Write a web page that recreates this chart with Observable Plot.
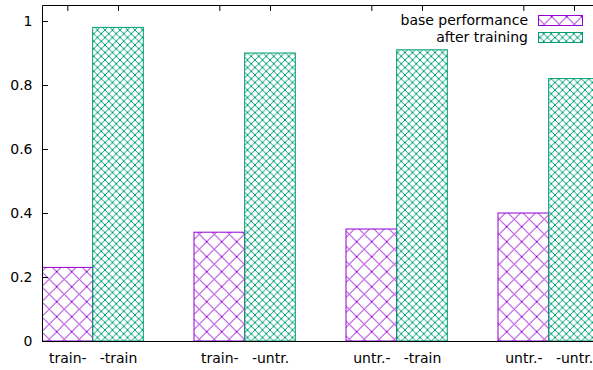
<!DOCTYPE html>
<html><head><meta charset="utf-8">
<script src="https://cdn.jsdelivr.net/npm/d3@7"></script>
<script src="https://cdn.jsdelivr.net/npm/@observablehq/plot@0.6"></script>
<style>html,body{margin:0;padding:0;background:#fff} #chart svg{display:block}</style>
</head><body><div id="chart"></div>
<script>
// ---- data ----
const groupLabels = [["train-", "-train"], ["train-", "-untr."], ["untr.-", "-train"], ["untr.-", "-untr."]];
const seriesNames = ["base performance", "after training"];
const basePerformance = [0.23, 0.34, 0.35, 0.40];
const afterTraining = [0.98, 0.90, 0.91, 0.82];
const yTicks = [0, 0.2, 0.4, 0.6, 0.8, 1];
const seriesColors = ["#9400d3", "#009e73"];

// ---- derived tables ----
const slots = [];
const labelOf = new Map();
groupLabels.forEach((g, i) => {
  slots.push(`b${i}`, `a${i}`, `g${i}`);
  labelOf.set(`b${i}`, g[0]);
  labelOf.set(`a${i}`, g[1]);
});
const labeledSlots = slots.filter(s => labelOf.has(s));
const baseRows = basePerformance.map((v, i) => ({slot: `b${i}`, value: v}));
const afterRows = afterTraining.map((v, i) => ({slot: `a${i}`, value: v}));

const NS = "http://www.w3.org/2000/svg";
function defsMark() {
  const g = document.createElementNS(NS, "g");
  const c0 = seriesColors[0], c1 = seriesColors[1];
  g.innerHTML = `<defs>
    <pattern id="pat0" patternUnits="userSpaceOnUse" width="15" height="15" x="11.7" y="1.7">
      <path d="M-2,-2L17,17M17,-2L-2,17" stroke="${c0}" stroke-width="1.2" fill="none" shape-rendering="crispEdges"/>
    </pattern>
    <pattern id="pat1" patternUnits="userSpaceOnUse" width="7.5" height="7.5">
      <path d="M-1,-1L8.5,8.5M8.5,-1L-1,8.5" stroke="${c1}" stroke-width="1" fill="none" shape-rendering="crispEdges"/>
      <circle cx="0" cy="0" r="1.1" fill="${c1}"/><circle cx="7.5" cy="0" r="1.1" fill="${c1}"/>
      <circle cx="0" cy="7.5" r="1.1" fill="${c1}"/><circle cx="7.5" cy="7.5" r="1.1" fill="${c1}"/>
      <circle cx="3.75" cy="3.75" r="1.1" fill="${c1}"/>
    </pattern>
  </defs>`;
  return g;
}
// frame border lines (left, top, bottom) drawn from the plot dimensions
function borderMark(index, scales, values, dimensions) {
  const g = document.createElementNS(NS, "g");
  const {width, height, marginLeft, marginTop, marginBottom} = dimensions;
  const x0 = marginLeft + 0.5, y0 = marginTop + 0.5, y1 = height - marginBottom + 0.5;
  const p = document.createElementNS(NS, "path");
  p.setAttribute("d", `M${width},${y0}H${x0}V${y1}H${width}`);
  p.setAttribute("fill", "none");
  p.setAttribute("stroke", "black");
  p.setAttribute("stroke-width", 1);
  g.appendChild(p);
  return g;
}
function legendMark(index, scales, values, dimensions) {
  const g = document.createElementNS(NS, "g");
  const w = dimensions.width;
  seriesNames.forEach((name, i) => {
    const cy = 20 + i * 17;
    const t = document.createElementNS(NS, "text");
    t.setAttribute("x", w - 65);
    t.setAttribute("y", cy);
    t.setAttribute("dy", "0.35em");
    t.setAttribute("text-anchor", "end");
    t.setAttribute("fill", "black");
    t.textContent = name;
    g.appendChild(t);
    const r = document.createElementNS(NS, "rect");
    r.setAttribute("x", w - 55 + 0.5);
    r.setAttribute("y", cy - 5 + 0.5);
    r.setAttribute("width", 44);
    r.setAttribute("height", 10);
    r.setAttribute("fill", `url(#pat${i})`);
    r.setAttribute("stroke", seriesColors[i]);
    g.appendChild(r);
  });
  return g;
}

const W = 593, H = 370, ML = 42, MT = 5, MB = 29;
const slotW = (498 - ML) / 9;

const chart = Plot.plot({
  width: W, height: H,
  marginLeft: ML, marginRight: 0, marginTop: MT, marginBottom: MB,
  style: {fontFamily: "DejaVu Sans", fontSize: "14px", color: "black", background: "white", overflow: "hidden"},
  x: {type: "band", domain: slots, range: [ML, ML + slots.length * slotW], padding: 0, round: false, axis: null, label: null},
  y: {domain: [0, 1.05], axis: null, label: null},
  marks: [
    defsMark,
    Plot.barY(baseRows, {x: "slot", y: "value", fill: "url(#pat0)", stroke: seriesColors[0], strokeWidth: 1, clip: true}),
    Plot.barY(afterRows, {x: "slot", y: "value", fill: "url(#pat1)", stroke: seriesColors[1], strokeWidth: 1, clip: true}),
    Plot.tickX(labeledSlots, {x: d => d, insetBottom: H - MT - MB - 6, stroke: "black"}),
    Plot.tickY(yTicks, {y: d => d, insetRight: W - ML - 6, stroke: "black"}),
    borderMark,
    Plot.axisY({ticks: yTicks, tickSize: 0, tickPadding: 10, tickFormat: d => String(d), fontSize: 14, label: null}),
    Plot.axisX({ticks: labeledSlots, tickSize: 0, tickPadding: 12, tickFormat: s => labelOf.get(s), fontSize: 14, label: null}),
    legendMark
  ]
});
document.getElementById("chart").appendChild(chart);
</script>
</body></html>
